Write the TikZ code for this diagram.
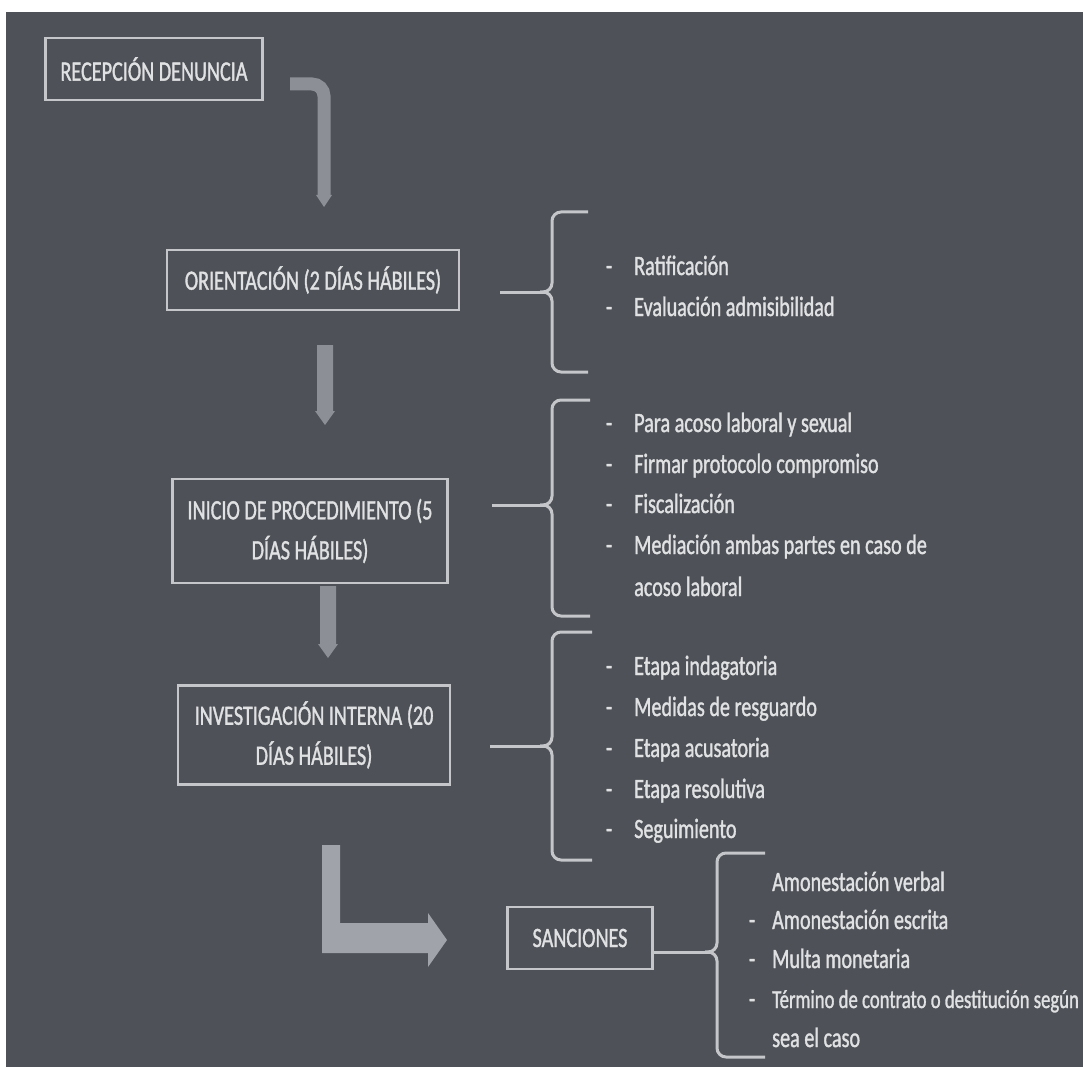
\documentclass[tikz,border=0pt]{standalone}
\usepackage{fontspec}
\setmainfont{Carlito}[FakeStretch=0.72,FakeBold=1.2]
\usetikzlibrary{calc}
\definecolor{bgc}{HTML}{4E5157}
\definecolor{txt}{HTML}{E0E1E3}
\definecolor{linec}{HTML}{C4C6C9}
\definecolor{arrc}{HTML}{8C8F95}
\definecolor{arrl}{HTML}{A0A3A9}
\begin{document}
\begin{tikzpicture}[x=1pt,y=-1pt,
  every node/.style={text=txt, font=\fontsize{28}{40}\selectfont, inner sep=0pt},
  stepbox/.style={draw=linec, line width=2.2pt, align=center},
  brace/.style={draw=linec, line width=3pt, rounded corners=9pt},
  conn/.style={draw=linec, line width=3pt},
  itemtxt/.style={anchor=base west},
  dashm/.style={anchor=base},
  arrowshape/.style={fill=arrc, draw=none},
]
\useasboundingbox (0,0) rectangle (1083,1067);
\fill[white] (0,0) rectangle (1083,1067);
\fill[bgc] (6,12) rectangle (1083,1067);

% boxes
\node[stepbox, minimum width=217pt, minimum height=62pt] (rec) at (154,69) {RECEPCIÓN DENUNCIA};
\node[stepbox, minimum width=292pt, minimum height=60pt] (ori) at (313,280) {ORIENTACIÓN (2 DÍAS HÁBILES)};
\node[stepbox, minimum width=275pt, minimum height=104pt] (ini) at (310,531) {INICIO DE PROCEDIMIENTO (5\\DÍAS HÁBILES)};
\node[stepbox, minimum width=272pt, minimum height=99pt] (inv) at (314,735) {INVESTIGACIÓN INTERNA (20\\DÍAS HÁBILES)};
\node[stepbox, minimum width=145pt, minimum height=62pt] (san) at (580,938) {SANCIONES};

% bent arrow rec -> ori
\coordinate (a0s) at (290,84);
\coordinate (a0c) at (324,84);
\coordinate (a0e) at (324,196);
\draw[arrc, line width=13pt, rounded corners=12pt] (a0s) -- (a0c) -- (a0e);
\fill[arrc] ($(a0e)+(-8,-1)$) -- ($(a0e)+(8,-1)$) -- ($(a0e)+(0,11)$) -- cycle;

% down arrow ori -> ini
\coordinate (a1) at (325,345);
\fill[arrowshape] ($(a1)+(-8,0)$) -- ($(a1)+(8,0)$) -- ($(a1)+(8,66)$) -- ($(a1)+(10,66)$) -- ($(a1)+(0,80)$) -- ($(a1)+(-10,66)$) -- ($(a1)+(-8,66)$) -- cycle;

% down arrow ini -> inv
\coordinate (a2) at (328,586);
\fill[arrowshape] ($(a2)+(-8,0)$) -- ($(a2)+(8,0)$) -- ($(a2)+(8,58)$) -- ($(a2)+(10,58)$) -- ($(a2)+(0,72)$) -- ($(a2)+(-10,58)$) -- ($(a2)+(-8,58)$) -- cycle;

% L arrow inv -> san
\coordinate (a3) at (322,845);
\fill[arrl] (a3) -- ++(18,0) -- ++(0,78) -- ++(88,0) -- ++(0,-10) -- ++(19,27) -- ++(-19,27) -- ++(0,-14) -- ++(-106,0) -- cycle;

% brace 1
\coordinate (s1) at (500,292);
\coordinate (t1) at (548,292);
\draw[brace] (588,212) -- (552,212) -- (552,292) -- (540,292);
\draw[brace] (588,372) -- (552,372) -- (552,292) -- (540,292);
\draw[conn] (s1) -- (t1);

% brace 2
\coordinate (s2) at (492,505);
\coordinate (t2) at (548,505);
\draw[brace] (590,400) -- (552,400) -- (552,505) -- (540,505);
\draw[brace] (590,616) -- (552,616) -- (552,505) -- (540,505);
\draw[conn] (s2) -- (t2);

% brace 3
\coordinate (s3) at (490,746);
\coordinate (t3) at (548,746);
\draw[brace] (592,632) -- (552,632) -- (552,746) -- (540,746);
\draw[brace] (592,860) -- (552,860) -- (552,746) -- (540,746);
\draw[conn] (s3) -- (t3);

% brace 4
\coordinate (s4) at (san.east |- 0,952);
\coordinate (t4) at (713,952);
\draw[brace] (765,853) -- (717,853) -- (717,952) -- (705,952);
\draw[brace] (765,1057) -- (717,1057) -- (717,952) -- (705,952);
\draw[conn] (s4) -- (t4);

% group 1
\node[dashm] (d11) at (609,275) {-};
\node[itemtxt] (i11) at (634,275) {Ratificación};
\node[dashm] (d12) at (609,316) {-};
\node[itemtxt] (i12) at (634,316) {Evaluación admisibilidad};

% group 2
\node[dashm] (d21) at (609,432) {-};
\node[itemtxt] (i21) at (634,432) {Para acoso laboral y sexual};
\node[dashm] (d22) at (609,473) {-};
\node[itemtxt] (i22) at (634,473) {Firmar protocolo compromiso};
\node[dashm] (d23) at (609,513) {-};
\node[itemtxt] (i23) at (634,513) {Fiscalización};
\node[dashm] (d24) at (609,554) {-};
\node[itemtxt] (i24) at (634,554) {Mediación ambas partes en caso de};
\node[itemtxt] (i25) at (634,596) {acoso laboral};

% group 3
\node[dashm] (d31) at (609,675) {-};
\node[itemtxt] (i31) at (634,675) {Etapa indagatoria};
\node[dashm] (d32) at (609,716) {-};
\node[itemtxt] (i32) at (634,716) {Medidas de resguardo};
\node[dashm] (d33) at (609,757) {-};
\node[itemtxt] (i33) at (634,757) {Etapa acusatoria};
\node[dashm] (d34) at (609,798) {-};
\node[itemtxt] (i34) at (634,798) {Etapa resolutiva};
\node[dashm] (d35) at (609,838) {-};
\node[itemtxt] (i35) at (634,838) {Seguimiento};

% group 4
\node[itemtxt] (i41) at (772,891) {Amonestación verbal};
\node[dashm] (d42) at (752,929) {-};
\node[itemtxt] (i42) at (772,929) {Amonestación escrita};
\node[dashm] (d43) at (752,968) {-};
\node[itemtxt] (i43) at (772,968) {Multa monetaria};
\node[dashm] (d44) at (752,1008) {-};
\node[itemtxt, font=\fontsize{26}{40}\selectfont] (i44) at (772,1008) {Término de contrato o destitución según};
\node[itemtxt] (i45) at (772,1047) {sea el caso};
\end{tikzpicture}
\end{document}
